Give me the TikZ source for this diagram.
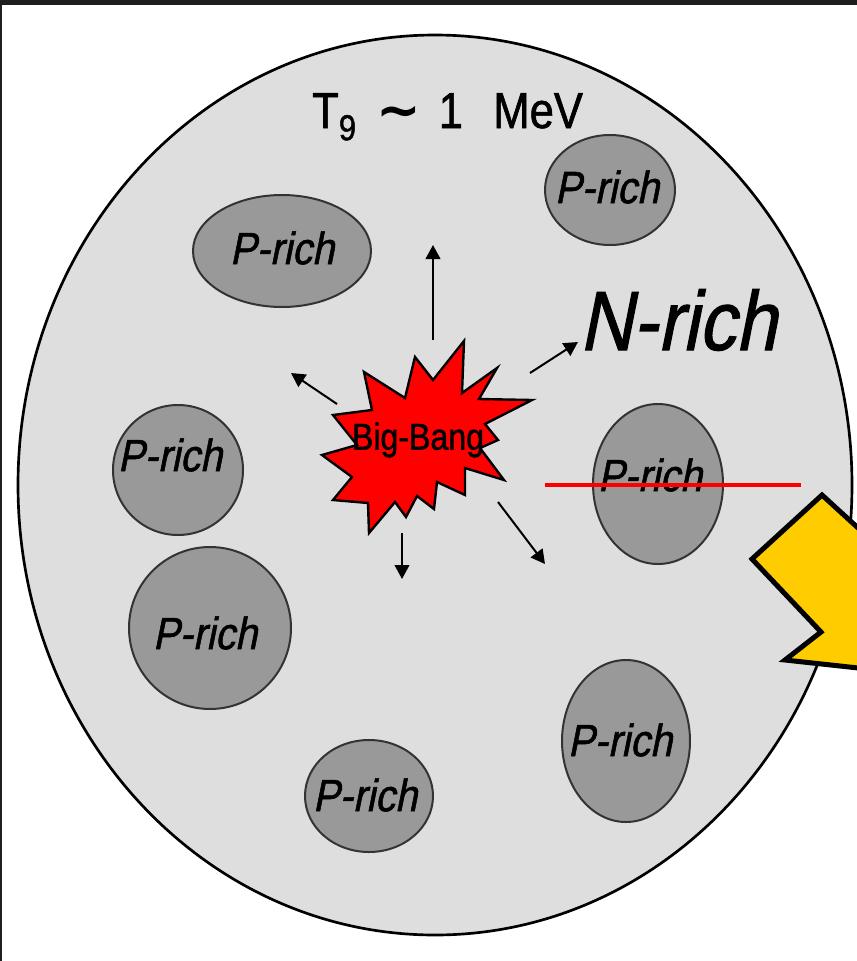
\documentclass[tikz,border=0pt]{standalone}
\usepackage{fontspec}
\newfontfamily\gothic[FakeStretch=0.86,FakeBold=1.2]{Liberation Sans}
\newfontfamily\gothicit[FakeStretch=0.88,FakeSlant=0.2,FakeBold=1.2]{Liberation Sans}
\newfontfamily\symfont{DejaVu Sans Bold}
\usetikzlibrary{shapes.geometric, arrows.meta}
\definecolor{plate}{HTML}{DEDEDE}
\definecolor{blob}{HTML}{999999}
\definecolor{rim}{HTML}{333333}
\definecolor{frame}{HTML}{1E1E1E}
\definecolor{warn}{HTML}{FFCC00}

\begin{document}
\begin{tikzpicture}[x=0.75pt,y=-0.75pt,
  prich/.style={draw=rim, fill=blob, line width=1.5pt},
  ptext/.style={font=\gothicit\fontsize{34}{34}\selectfont, inner sep=0pt},
  ray/.style={-{Triangle[length=10.5pt,width=11pt]}, line width=1.5pt}]
\clip (0,0) rectangle (857,961);
\fill[white] (0,0) rectangle (857,961);
\fill[frame] (0,0) rectangle (857,5);
\fill[frame] (0,0) rectangle (2,961);
% the plate
\filldraw[fill=plate, draw=black, line width=2pt] (435,485) ellipse [x radius=417, y radius=450];
\node[font=\gothic\fontsize{38}{38}\selectfont, inner sep=0pt, anchor=base west] (temp) at (312,128)
  {T\raisebox{-0.24em}{\fontsize{27}{27}\selectfont 9}\hspace{0.4em}{\symfont\fontsize{40}{40}\selectfont ∼}\hspace{0.35em}1\hspace{0.6em}MeV};
% proton rich blobs
\foreach \cx/\cy/\rx/\ry/\tx/\ty [count=\i] in {282/251/89/56/282/248, 610/190/65/55/607/187,
    658/484/65/80/650/475, 178/470/65/65/170/455, 210/628/81/81/205/633,
    626/741/64/81/620/740, 369/796/64/56/365/795} {
  \filldraw[prich] (\cx,\cy) ellipse [x radius=\rx, y radius=\ry];
  \node[ptext] (prich\i) at (\tx,\ty) {P-rich};
}
\node[font=\gothicit\fontsize{63}{63}\selectfont, inner sep=0pt] (nrich) at (678,320) {N-rich};
% explosion
\filldraw[fill=red, draw=black, line width=1.8pt, line join=miter]
  (464,341) -- (462,393) -- (497,368) -- (479,399) -- (532,400) -- (485,424) --
  (498,440) -- (480,448) -- (504,480) -- (465,468) -- (465,495) -- (437,482) --
  (434,509) -- (417,496) -- (406,517) -- (395,502) -- (369,533) -- (368,503) --
  (333,500) -- (352,477) -- (322,455) -- (357,445) -- (333,415) -- (372,410) --
  (364,372) -- (405,398) -- (415,357) -- (433,380) -- cycle;
\node[font=\gothic\fontsize{28}{28}\selectfont, inner sep=0pt] (bang) at (418,440) {Big-Bang};
% rays
\coordinate (upS) at (433,340); \coordinate (upT) at (433,245);
\coordinate (ulS) at (337,404); \coordinate (ulT) at (291,373);
\coordinate (urS) at (530,373); \coordinate (urT) at (578,342);
\coordinate (dnS) at (402,533); \coordinate (dnT) at (402,579);
\coordinate (drS) at (498,502); \coordinate (drT) at (545,564);
\draw[ray] (upS) -- (upT);
\draw[ray] (ulS) -- (ulT);
\draw[ray] (urS) -- (urT);
\draw[ray] (dnS) -- (dnT);
\draw[ray] (drS) -- (drT);
% cut line
\coordinate (cutL) at (545,485); \coordinate (cutR) at (801,485);
\draw[red, line width=3.5pt] (cutL) -- (cutR);
% big arrow
\filldraw[fill=warn, draw=black, line width=3.75pt, line join=miter]
  (822,495) -- (752,559) -- (821,632) -- (785,660) -- (950,678) -- (950,612) -- cycle;
\end{tikzpicture}
\end{document}
